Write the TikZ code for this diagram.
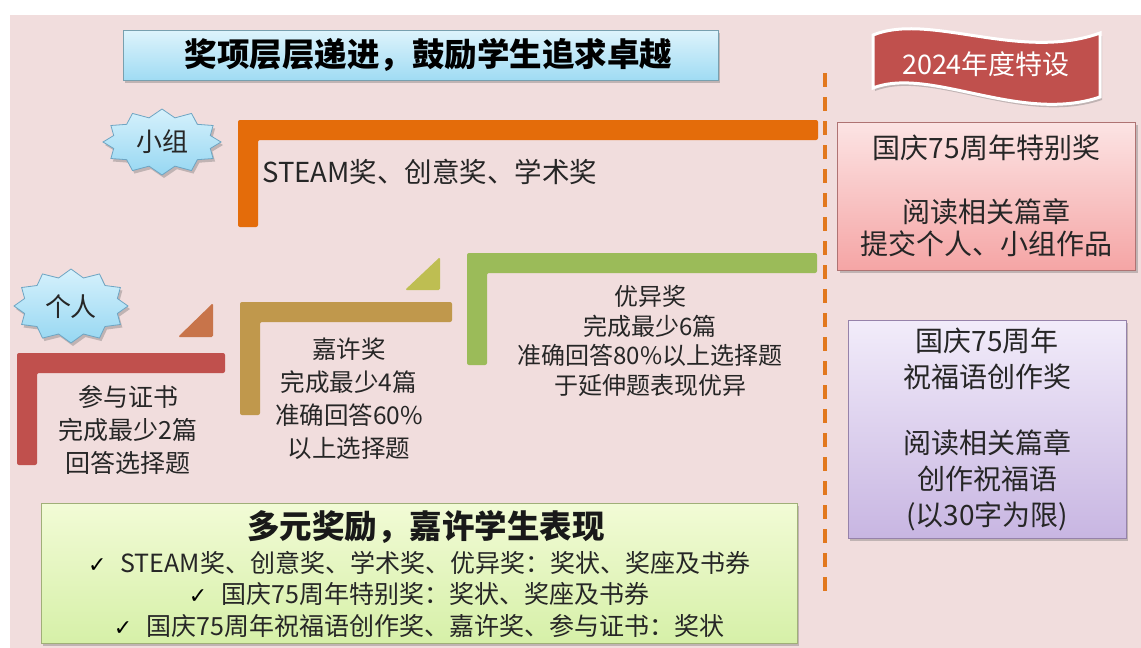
\documentclass[tikz,border=0pt]{standalone}
\usepackage{fontspec}
\setmainfont{Noto Sans CJK SC}
\newfontfamily\dejavu{DejaVu Sans}
\usetikzlibrary{shadows}
\definecolor{bgpink}{RGB}{241,221,221}
\definecolor{orng}{RGB}{228,108,10}
\definecolor{redL}{RGB}{192,80,77}
\definecolor{tanL}{RGB}{192,152,76}
\definecolor{grnL}{RGB}{155,187,89}
\definecolor{brtri}{RGB}{200,116,74}
\definecolor{oltri}{RGB}{190,190,82}
\definecolor{dashc}{RGB}{226,120,30}
\definecolor{bannerred}{RGB}{192,80,77}
\tikzset{
  shd/.style={drop shadow={shadow xshift=2pt,shadow yshift=-3pt,opacity=0.35,fill=black!60}},
  bluebox/.style={top color={rgb,255:red,222;green,244;blue,252},bottom color={rgb,255:red,160;green,219;blue,243},draw={rgb,255:red,120;green,160;blue,175},line width=0.8pt},
  starsty/.style={top color={rgb,255:red,214;green,241;blue,252},bottom color={rgb,255:red,150;green,215;blue,242},draw={rgb,255:red,110;green,165;blue,195},line width=0.8pt},
  txt/.style={font=\fontsize{25}{33}\selectfont,align=center,text=black!85},
  lbar/.style={rounded corners=2pt},
}
\newcommand{\ck}{{\dejavu\bfseries\fontsize{22}{22}\selectfont\color{black}✓}\hspace{14pt}}
\begin{document}
\begin{tikzpicture}[x=1pt,y=-1pt]
\useasboundingbox (0,0) rectangle (1141,648);
\fill[white] (0,0) rectangle (1141,648);
\fill[bgpink] (10,15) rectangle (1141,648);

% title
\node[bluebox,shd,minimum width=595pt,minimum height=50pt,inner sep=0pt,font=\fontsize{32.5}{32.5}\selectfont\bfseries] (title) at (420.5,55) {\hspace{16pt}奖项层层递进，鼓励学生追求卓越};

% banner
\path[fill=bannerred,draw=white,line width=3pt,shd]
  (873,35) .. controls (930,12) and (1020,62) .. (1100,33)
  -- (1100,97) .. controls (1020,124) and (930,66) .. (873,88) -- cycle;
\node[text=white,font=\fontsize{27}{27}\selectfont] (banner) at (986,64) {2024年度特设};

% dashed line
\coordinate (dtop) at (825,73);
\coordinate (dbot) at (825,592);
\draw[dashc,line width=4.5pt,dash pattern=on 14pt off 10pt] (dtop) -- (dbot);

% L shapes
\fill[orng,lbar] (238,120) -- (818,120) -- (818,140) -- (258,140) -- (258,227) -- (238,227) -- cycle;
\fill[redL,lbar] (17,353) -- (225,353) -- (225,373) -- (37,373) -- (37,465) -- (17,465) -- cycle;
\fill[tanL,lbar] (240,302) -- (452,302) -- (452,322) -- (260,322) -- (260,415) -- (240,415) -- cycle;
\fill[grnL,lbar] (467,253) -- (817,253) -- (817,273) -- (487,273) -- (487,365) -- (467,365) -- cycle;

% triangles
\fill[brtri,rounded corners=1.5pt] (178,337) -- (213,337) -- (213,303) -- cycle;
\fill[oltri,rounded corners=1.5pt] (405,290) -- (440,290) -- (440,257) -- cycle;

% starbursts
\draw[starsty,shd,shift={(162,142)}] (90:59 and 33)
  \foreach \i in {1,...,23}{ -- ({90+\i*15}:{ifthenelse(mod(\i,2)==0,59,50)} and {ifthenelse(mod(\i,2)==0,33,25)}) } -- cycle;
\node[font=\fontsize{26}{26}\selectfont,text=black!85] (grp) at (162,142) {小组};
\draw[starsty,shd,shift={(71,306)}] (90:57 and 37)
  \foreach \i in {1,...,23}{ -- ({90+\i*15}:{ifthenelse(mod(\i,2)==0,57,48)} and {ifthenelse(mod(\i,2)==0,37,29)}) } -- cycle;
\node[font=\fontsize{26}{26}\selectfont,text=black!85] (ind) at (71,307) {个人};

% texts of L shapes
\node[txt,font=\fontsize{27.5}{33}\selectfont,anchor=west,inner sep=0pt] (steam) at (262,172) {STEAM奖、创意奖、学术奖};
\node[txt] (cert) at (128,430) {参与证书\\完成最少2篇\\回答选择题};
\node[txt,font=\fontsize{24.5}{33}\selectfont] (merit) at (349,399) {嘉许奖\\完成最少4篇\\准确回答60\%\\以上选择题};
\node[txt,font=\fontsize{24}{29.5}\selectfont] (excel) at (650,341) {优异奖\\完成最少6篇\\准确回答80\%以上选择题\\于延伸题表现优异};

% right boxes
\node[shd,minimum width=298pt,minimum height=148pt,
  top color={rgb,255:red,252;green,228;blue,228},bottom color={rgb,255:red,245;green,165;blue,165},
  draw={rgb,255:red,175;green,115;blue,115},line width=0.8pt,
  font=\fontsize{28}{32}\selectfont,align=center,text=black!85] (special) at (986.5,196)
  {国庆75周年特别奖\\[32pt]阅读相关篇章\\提交个人、小组作品};
\node[shd,minimum width=278pt,minimum height=218pt,
  top color={rgb,255:red,242;green,236;blue,250},bottom color={rgb,255:red,200;green,182;blue,226},
  draw={rgb,255:red,150;green,130;blue,170},line width=0.8pt,
  font=\fontsize{28}{36}\selectfont,align=center,text=black!85] (bless) at (987,429)
  {国庆75周年\\祝福语创作奖\\[30pt]阅读相关篇章\\创作祝福语\\(以30字为限)};

% bottom box
\node[shd,minimum width=756pt,minimum height=140pt,
  top color={rgb,255:red,242;green,251;blue,214},bottom color={rgb,255:red,214;green,240;blue,168},
  draw={rgb,255:red,160;green,175;blue,120},line width=0.8pt] (summary) at (419,573) {};
\node[font=\fontsize{32.5}{32.5}\selectfont\bfseries,text=black!90] (sumtitle) at (426,527) {多元奖励，嘉许学生表现};
\node[font=\fontsize{25}{31.5}\selectfont,align=center,text=black!85] (sumlines) at (419,594)
  {\ck STEAM奖、创意奖、学术奖、优异奖：奖状、奖座及书券\\
   \ck 国庆75周年特别奖：奖状、奖座及书券\\
   \ck 国庆75周年祝福语创作奖、嘉许奖、参与证书：奖状};
\end{tikzpicture}
\end{document}
